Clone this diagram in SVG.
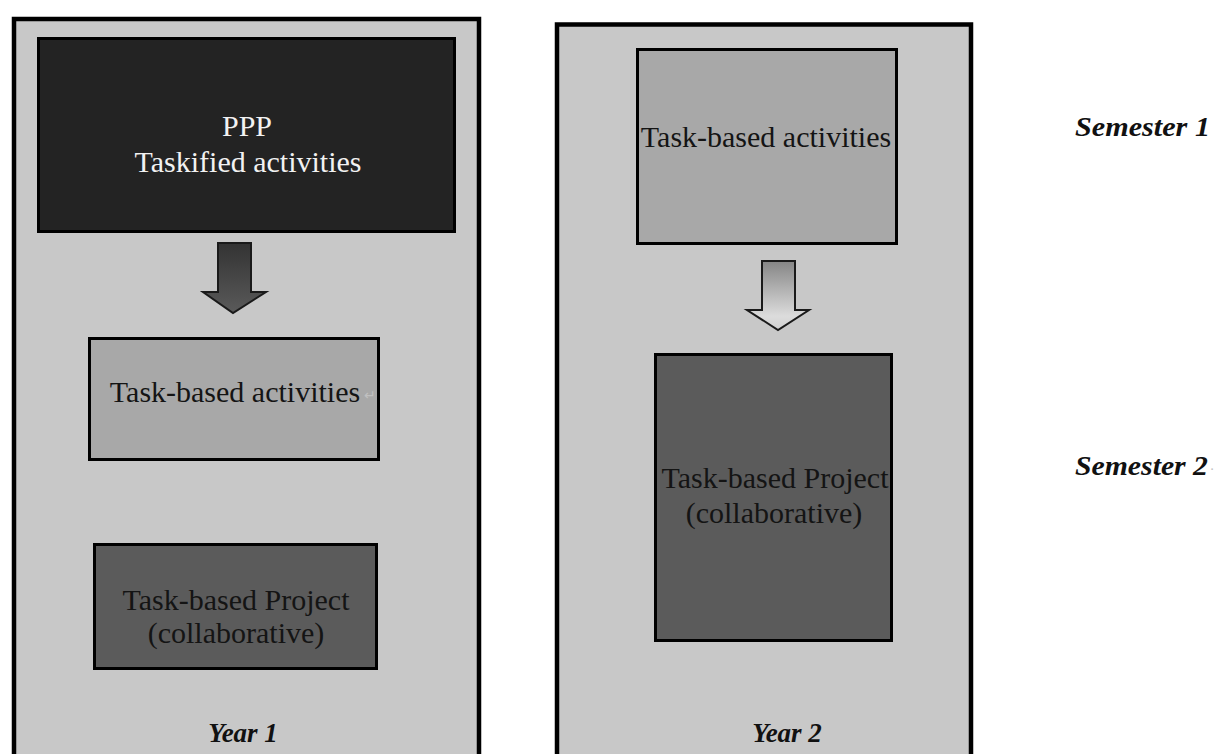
<svg xmlns="http://www.w3.org/2000/svg" width="1220" height="754" viewBox="0 0 1220 754">
<style>
.outer{fill:#c8c8c8;stroke:#000;stroke-width:4.5}
.box{stroke:#000;stroke-width:3}
.dark{fill:#232323}
.mid{fill:#a8a8a8}
.deep{fill:#5b5b5b}
.t{font-family:"Liberation Serif","Times New Roman",serif;font-size:30px;text-anchor:middle;fill:#141414}
.tw{fill:#f2f2f2}
.lab{font-family:"Liberation Serif","Times New Roman",serif;font-size:27px;font-weight:bold;font-style:italic;fill:#111}
.mark{fill:#c0c0c0;font-size:14px}
</style>
<defs>
<linearGradient id="gDark" x1="0" y1="0" x2="0" y2="1">
<stop offset="0" stop-color="#333"/>
<stop offset="1" stop-color="#5a5a5a"/>
</linearGradient>
<linearGradient id="gLight" x1="0" y1="0" x2="0" y2="1">
<stop offset="0" stop-color="#858585"/>
<stop offset="0.8" stop-color="#dcdcdc"/>
<stop offset="1" stop-color="#d0d0d0"/>
</linearGradient>
</defs>
<rect width="1220" height="754" fill="#fff"/>
<g id="year1">
<rect class="outer" x="14" y="19" width="465" height="760"/>
<text class="lab" x="243" y="742" text-anchor="middle">Year 1</text>
</g>
<g id="year2">
<rect class="outer" x="557" y="24.5" width="414" height="760"/>
<text class="lab" x="787" y="742" text-anchor="middle">Year 2</text>
</g>
<g id="ppp">
<rect class="box dark" x="38.5" y="38.5" width="416" height="193"/>
<text class="t tw" x="247" y="136">PPP</text>
<text class="t tw" x="248" y="172">Taskified activities</text>
</g>
<g id="tba1">
<rect class="box mid" x="89.5" y="338.5" width="289" height="121"/>
<text class="t" x="235" y="402">Task-based activities</text>
<text class="t mark" x="370" y="400">↵</text>
</g>
<g id="proj1">
<rect class="box deep" x="94.5" y="544.5" width="282" height="124"/>
<text class="t" x="236" y="610">Task-based Project</text>
<text class="t" x="236" y="643">(collaborative)</text>
</g>
<g id="tba2">
<rect class="box mid" x="637.5" y="49.5" width="259" height="194"/>
<text class="t" x="766" y="147">Task-based activities</text>
</g>
<g id="proj2">
<rect class="box deep" x="655.5" y="354.5" width="236" height="286"/>
<text class="t" x="775" y="488">Task-based Project</text>
<text class="t" x="774" y="523">(collaborative)</text>
</g>
<g id="sem1">
<text class="lab" x="1075" y="136" font-size="28" textLength="135" lengthAdjust="spacingAndGlyphs">Semester 1</text>
</g>
<g id="sem2">
<text class="lab" x="1075" y="475" font-size="28" textLength="133" lengthAdjust="spacingAndGlyphs">Semester 2</text>
<text class="t mark" x="1212" y="474">·</text>
</g>
<g id="connectors" stroke="#1a1a1a" stroke-width="2" stroke-linejoin="miter">
<path d="M218,243 H251 V292 H266 L233,313 L203,292 H218 Z" fill="url(#gDark)"/>
<path d="M762,261 H795 V310 H809 L778,330 L747,310 H762 Z" fill="url(#gLight)"/>
</g>
</svg>
